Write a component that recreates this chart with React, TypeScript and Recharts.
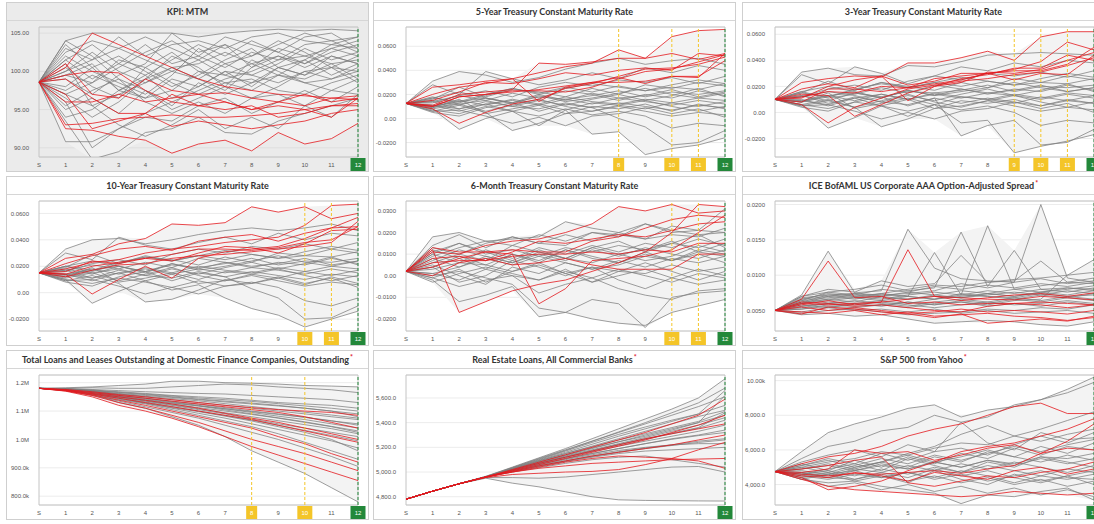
import React from 'react';
import { ComposedChart, Line, Area, XAxis, YAxis, CartesianGrid, ReferenceLine, ReferenceArea } from 'recharts';

// Forecast horizon: S (start) then months 1..12
const steps = [0, 1, 2, 3, 4, 5, 6, 7, 8, 9, 10, 11, 12];

// KPI: MTM
const kpiGray = [
  [98.6, 104.0, 105.0, 105.0, 105.0, 105.0, 104.5, 105.0, 105.3, 105.5, 105.3, 105.5, 105.3],
  [98.6, 103.0, 101.5, 104.5, 102.0, 103.5, 104.0, 103.0, 104.5, 105.0, 104.0, 103.5, 104.5],
  [98.6, 101.5, 99.0, 101.0, 103.5, 101.0, 102.0, 100.5, 102.5, 101.5, 103.5, 104.0, 102.5],
  [98.6, 100.0, 102.5, 100.0, 98.5, 100.5, 101.0, 102.5, 101.0, 102.0, 101.0, 102.5, 103.5],
  [98.6, 99.0, 97.0, 99.5, 101.0, 105.0, 102.5, 103.5, 100.5, 103.0, 102.0, 101.0, 101.5],
  [98.6, 97.5, 99.5, 98.0, 96.5, 99.0, 98.0, 100.0, 99.5, 98.5, 100.0, 100.5, 100.0],
  [98.6, 95.0, 96.5, 94.5, 97.5, 95.5, 98.5, 97.0, 98.5, 99.5, 98.5, 97.5, 99.0],
  [98.6, 90.8, 90.8, 92.5, 94.0, 93.5, 95.5, 96.5, 94.5, 96.0, 97.5, 96.0, 98.0],
  [98.6, 93.5, 88.5, 89.5, 92.0, 92.5, 94.0, 92.0, 91.8, 93.5, 94.5, 95.5, 96.5],
  [98.6, 96.0, 90.0, 92.5, 94.5, 96.0, 97.5, 99.0, 100.0, 101.5, 102.0, 103.0, 104.0],
  [98.6, 102.5, 104.0, 103.0, 101.5, 100.0, 101.5, 99.5, 98.5, 100.5, 101.5, 99.5, 101.0],
  [98.6, 100.5, 98.0, 96.5, 100.5, 98.5, 97.0, 98.5, 97.5, 99.5, 99.0, 100.5, 98.5],
  [98.6, 98.0, 100.5, 102.0, 100.0, 98.0, 99.5, 101.5, 103.0, 100.5, 99.5, 102.0, 101.0],
  [98.6, 104.0, 102.0, 99.0, 96.0, 94.5, 96.0, 94.5, 96.5, 97.0, 95.5, 97.5, 97.0],
  [98.6, 96.5, 94.0, 96.0, 99.0, 100.5, 99.0, 101.0, 99.5, 101.0, 103.0, 101.5, 102.5],
  [98.6, 99.5, 101.0, 97.5, 99.0, 102.0, 100.5, 98.0, 101.5, 100.0, 98.5, 99.0, 100.0],
  [98.6, 101.0, 95.5, 93.0, 91.5, 93.0, 95.0, 92.5, 94.0, 92.5, 95.5, 94.0, 97.0],
  [98.6, 97.0, 98.5, 100.5, 102.5, 104.0, 102.0, 104.5, 103.5, 102.5, 104.5, 105.0, 103.0],
  [98.6, 94.0, 95.0, 97.5, 96.5, 97.5, 100.0, 98.5, 99.0, 97.5, 97.0, 98.5, 99.5],
  [98.6, 102.0, 100.0, 98.5, 97.0, 99.5, 103.0, 101.0, 102.0, 104.0, 102.5, 100.5, 102.0],
  [98.6, 100.0, 101.5, 103.0, 104.5, 103.0, 101.5, 103.5, 102.0, 103.5, 105.0, 104.0, 104.5],
  [98.6, 97.0, 95.5, 97.0, 98.5, 100.0, 99.0, 97.5, 100.5, 102.0, 100.5, 102.0, 101.0],
  [98.6, 101.5, 103.5, 101.0, 99.5, 101.5, 103.5, 102.0, 104.0, 102.5, 101.0, 103.0, 102.0],
  [98.6, 95.5, 97.5, 99.0, 97.5, 95.0, 96.5, 98.0, 96.5, 98.0, 100.0, 99.0, 100.5],
  [98.6, 99.5, 98.5, 101.5, 100.5, 102.5, 100.0, 99.5, 101.0, 99.5, 101.5, 103.5, 103.0],
  [98.6, 103.5, 100.5, 97.5, 99.5, 96.5, 98.0, 100.0, 98.0, 100.5, 99.5, 101.0, 99.0],
];
const kpiRed = [
  [98.6, 92.5, 92.3, 91.5, 91.0, 89.3, 90.5, 91.0, 89.6, 92.0, 90.5, 91.2, 93.2],
  [98.6, 100.5, 105.0, 103.5, 102.0, 100.5, 99.0, 98.0, 97.5, 97.0, 96.8, 96.5, 96.3],
  [98.6, 101.0, 97.0, 96.5, 99.0, 97.5, 97.0, 97.2, 96.5, 96.0, 97.0, 96.0, 96.5],
  [98.6, 93.0, 93.2, 93.8, 94.0, 94.3, 94.0, 94.0, 94.2, 94.5, 95.0, 95.5, 95.8],
  [98.6, 99.5, 100.0, 99.8, 97.5, 96.0, 95.5, 96.0, 95.0, 95.5, 95.0, 94.0, 96.5],
  [98.6, 97.0, 92.5, 93.5, 94.5, 92.8, 93.5, 93.0, 92.5, 93.0, 93.5, 94.5, 95.0],
  [98.6, 96.0, 96.0, 97.0, 96.0, 96.5, 97.0, 96.0, 95.0, 96.0, 95.5, 96.5, 96.8],
  [98.6, 99.0, 96.5, 94.5, 94.5, 97.0, 95.5, 95.0, 95.5, 94.0, 94.5, 95.5, 95.5],
];

// Treasury rates and spreads are kept in basis points
const fiveYrGray = [
  [125, 310, 390, 360, 300, 340, 410, 460, 500, 450, 480, 500, 450],
  [125, 280, 200, 390, 330, 280, 320, 380, 330, 420, 380, 440, 400],
  [125, 80, -90, 0, 60, -60, 70, -130, -110, -300, -250, -220, -160],
  [125, 160, 260, 180, 240, 220, 180, 250, 200, 280, 250, 300, 270],
  [125, 60, 110, 50, -100, -40, 40, 100, 80, 120, 60, 120, 80],
  [125, 100, 140, 170, 130, 180, 160, 190, 230, 180, 220, 200, 230],
  [125, 70, 40, 100, 60, 20, 80, 30, 60, 20, -80, -40, -60],
  [125, 180, 120, 150, 210, 170, 230, 200, 150, 200, 170, 230, 190],
  [125, 140, 80, 120, 150, 110, 160, 120, 170, 140, 110, 150, 120],
  [125, 90, 160, 40, 80, 120, 70, 130, 110, 80, 130, 100, 140],
  [125, 130, 190, 230, 180, 260, 300, 270, 320, 300, 340, 290, 350],
  [125, 50, 20, 90, 130, 60, 120, 90, 0, -70, -220, -200, -100],
  [125, 110, 60, 120, 60, 110, 40, 60, 100, 60, 20, 50, 30],
  [125, 170, 220, 170, 120, 190, 140, 170, 210, 250, 200, 170, 210],
  [125, 90, 130, 190, 250, 200, 250, 290, 260, 230, 280, 320, 290],
  [125, 60, 70, 20, -40, 10, -60, 20, 40, 90, 40, 80, 10],
  [125, 150, 110, 170, 130, 200, 150, 210, 170, 190, 240, 180, 220],
  [125, 100, 150, 110, 160, 120, 180, 140, 120, 160, 130, 170, 150],
  [125, 140, 190, 150, 100, 150, 110, 160, 200, 150, 190, 250, 180],
  [125, 110, 80, 140, 100, 80, 130, 90, 130, 100, 70, 110, 90],
  [125, 170, 140, 200, 250, 210, 260, 220, 270, 230, 260, 240, 290],
  [125, 80, 120, 60, 110, 160, 100, 60, 110, 150, 100, 60, 100],
];
const fiveYrRed = [
  [125, 260, 280, 310, 330, 380, 430, 460, 570, 500, 680, 730, 740],
  [125, 110, 200, 220, 240, 460, 450, 470, 500, 500, 540, 490, 540],
  [125, 100, 180, 200, 230, 230, 220, 260, 330, 390, 410, 470, 530],
  [125, 150, 220, 300, 290, 330, 380, 360, 400, 420, 400, 540, 520],
  [125, 80, -40, 50, 120, 160, 250, 290, 350, 410, 420, 450, 510],
  [125, 100, 180, 200, 220, 240, 270, 300, 300, 310, 350, 340, 540],
  [125, 200, 260, 290, 330, 140, 260, 300, 340, 290, 350, 350, 480],
];

const threeYrGray = [
  [100, 310, 340, 290, 280, 360, 350, 390, 440, 450, 460, 450, 440],
  [100, 290, 220, 350, 300, 220, 280, 350, 320, 380, 350, 400, 380],
  [100, 60, -120, -40, 50, -30, 60, -80, -60, -310, -260, -220, -170],
  [100, 150, 240, 170, 230, 200, 170, 230, 190, 260, 230, 280, 250],
  [100, 50, 90, 40, -110, -50, 30, 90, 70, 100, 50, 100, 70],
  [100, 90, 130, 150, 120, 160, 150, 170, 210, 160, 200, 190, 210],
  [100, 60, 30, 80, 50, 10, 60, 20, 50, 0, -100, -60, -80],
  [100, 160, 110, 140, 190, 150, 210, 180, 140, 180, 160, 210, 170],
  [100, 130, 70, 110, 140, 100, 140, 110, 150, 130, 100, 140, 110],
  [100, 80, 150, 30, 70, 110, 60, 120, 100, 70, 120, 90, 130],
  [100, 120, 180, 210, 170, 240, 280, 250, 300, 280, 310, 270, 320],
  [100, 40, 10, 80, 120, 50, 110, -180, -100, -60, -250, -230, -130],
  [100, 100, 50, 110, 50, 100, 30, 50, 90, 50, 10, 40, 20],
  [100, 160, 200, 160, 110, 170, 130, 160, 190, 230, 190, 160, 190],
  [100, 80, 120, 170, 230, 190, 230, 270, 240, 210, 260, 300, 270],
  [100, 50, 60, 10, -50, 0, -50, 10, 30, 80, 30, 70, 0],
  [100, 130, 90, 150, 110, 170, 130, 180, 150, 170, 210, 160, 190],
  [100, 80, 130, 90, 140, 100, 150, 120, 100, 140, 110, 150, 130],
  [100, 120, 160, 130, 80, 130, 90, 140, 180, 130, 170, 220, 160],
  [100, 90, 60, 120, 80, 60, 110, 70, 110, 80, 50, 90, 70],
  [100, 150, 120, 180, 220, 190, 230, 200, 240, 210, 230, 220, 260],
  [100, 60, 100, 40, 90, 140, 80, 40, 90, 130, 80, 40, 80],
];
const threeYrRed = [
  [100, 230, 260, 280, 270, 380, 380, 420, 470, 400, 580, 620, 620],
  [100, 180, 220, 190, 280, 210, 240, 300, 300, 330, 390, 540, 480],
  [100, 120, 160, 150, 200, 190, 220, 250, 300, 320, 320, 370, 500],
  [100, 60, -80, 40, 110, 180, 210, 240, 260, 290, 310, 360, 420],
  [100, 80, 180, 180, 160, 190, 260, 280, 300, 250, 300, 290, 440],
  [100, 110, 200, 250, 280, 90, 200, 260, 290, 340, 340, 440, 400],
  [100, 140, 130, -30, 60, 150, 200, 230, 310, 300, 330, 400, 460],
];

const tenYrGray = [
  [150, 330, 400, 410, 370, 400, 440, 470, 490, 470, 490, 520, 470],
  [150, 300, 250, 420, 360, 330, 380, 420, 370, 450, 400, 450, 430],
  [150, 100, -80, 10, 90, 20, 60, -40, -120, -170, -260, -200, -140],
  [150, 190, 290, 220, 270, 250, 210, 270, 230, 300, 280, 330, 300],
  [150, 90, 130, 70, -70, -50, 20, 100, 70, 110, 60, 120, 70],
  [150, 140, 170, 200, 160, 210, 190, 220, 260, 210, 240, 230, 260],
  [150, 100, 70, 110, 80, 40, 90, 50, 80, 40, -60, -100, -40],
  [150, 200, 150, 180, 230, 190, 260, 230, 190, 230, 210, 260, 220],
  [150, 170, 110, 150, 180, 140, 180, 150, 190, 170, 140, 180, 150],
  [150, 120, 190, 80, 110, 150, 100, 160, 140, 110, 160, 130, 170],
  [150, 160, 220, 250, 210, 290, 330, 300, 350, 330, 370, 330, 380],
  [150, 80, 50, 120, 160, 90, 150, 120, 30, -40, -200, -190, -100],
  [150, 140, 90, 150, 90, 140, 70, 90, 130, 90, 50, 80, 60],
  [150, 200, 240, 200, 150, 220, 170, 200, 240, 280, 230, 200, 240],
  [150, 120, 160, 220, 280, 240, 280, 320, 290, 260, 310, 350, 320],
  [150, 90, 100, 50, -10, 40, -10, 50, 70, 120, 70, 110, 40],
  [150, 180, 140, 200, 160, 220, 180, 230, 200, 220, 260, 210, 240],
  [150, 130, 180, 140, 190, 150, 200, 170, 150, 190, 160, 200, 180],
  [150, 170, 210, 180, 130, 180, 140, 190, 230, 180, 220, 270, 210],
  [150, 140, 110, 170, 130, 110, 160, 120, 160, 130, 100, 140, 120],
  [150, 200, 170, 230, 270, 240, 280, 250, 290, 260, 280, 270, 310],
  [150, 110, 150, 90, 140, 190, 130, 90, 140, 180, 130, 90, 130],
];
const tenYrRed = [
  [150, 260, 290, 370, 410, 520, 510, 530, 650, 610, 650, 560, 600],
  [150, 180, 230, 250, 300, 330, 350, 380, 400, 420, 510, 660, 670],
  [150, 140, -10, 100, 200, 110, 260, 310, 330, 350, 410, 490, 500],
  [150, 220, 280, 330, 350, 320, 390, 420, 440, 390, 450, 490, 570],
  [150, 140, 200, 230, 260, 290, 330, 330, 320, 340, 380, 400, 500],
  [150, 120, 170, 210, 220, 260, 280, 290, 310, 330, 350, 380, 540],
  [150, 160, 240, 220, 260, 240, 300, 350, 340, 300, 370, 470, 480],
];

const sixMoGray = [
  [20, 180, 200, 160, 170, 180, 250, 220, 200, 240, 200, 210, 310],
  [20, 140, 190, 130, 180, 150, 140, 200, 190, 170, 230, 210, 200],
  [20, -20, -120, -90, -50, -190, -170, -200, -220, -230, -170, -140, -110],
  [20, 100, 60, 120, 80, 130, 100, 140, 110, 150, 130, 170, 140],
  [20, 50, 0, -40, 40, 10, 60, 30, 70, 40, 80, 60, 90],
  [20, -10, -50, -20, 0, -80, -40, -10, -60, -90, -110, -70, -60],
  [20, 70, 120, 90, 60, 100, 70, 120, 90, 130, 100, 80, 120],
  [20, 0, 20, -10, -40, -150, -170, -110, -130, -240, -100, -80, -70],
  [20, 120, 80, 30, 100, 60, 120, 90, 60, 110, 70, 120, 100],
  [20, 30, 60, 50, 20, 50, 10, 40, 20, 10, 50, 20, 40],
  [20, 90, 130, 160, 140, 190, 160, 200, 180, 240, 210, 190, 200],
  [20, -30, 10, 40, 10, -20, 30, -30, 0, 30, -10, -40, -20],
  [20, 60, 100, 70, 140, 110, 80, 60, 100, 70, 90, 140, 110],
  [20, 40, -30, 0, 70, 40, 0, 40, -20, -60, -10, 30, 0],
  [20, 110, 150, 100, 120, 90, 130, 110, 140, 120, 150, 130, 170],
  [20, 10, 40, 80, 50, 90, 60, 30, 50, 90, 70, 100, 60],
  [20, 80, 40, 90, 60, 110, 80, 130, 100, 120, 160, 110, 150],
  [20, 40, 90, 50, 100, 70, 120, 80, 60, 100, 70, 110, 90],
  [20, 100, 150, 110, 70, 120, 80, 130, 160, 110, 150, 190, 130],
  [20, 10, -20, 30, 0, -20, 20, -10, 30, 0, -30, 10, -10],
  [20, 130, 100, 150, 180, 150, 190, 160, 200, 170, 190, 180, 220],
  [20, -10, 30, -30, 20, 60, 10, -30, 20, 60, 20, -20, 20],
];
const sixMoRed = [
  [20, 110, 100, 140, 160, 170, 200, 240, 320, 300, 330, 290, 300],
  [20, 120, -170, -120, -70, -40, -20, 20, 60, 110, 200, 330, 320],
  [20, 40, 80, 110, 100, -130, -60, 70, 80, 90, 120, 200, 280],
  [20, 130, 110, 110, 120, 110, 110, 160, 180, 220, 260, 280, 270],
  [20, 60, 70, 70, 90, 100, 100, 110, 100, 120, 110, 150, 150],
  [20, 0, 60, 80, 50, 60, 80, 50, 30, 30, 30, 100, 100],
  [20, 80, 90, 70, 110, 160, 150, 170, 190, 180, 210, 240, 250],
];

const oasGray = [
  [50, 72, 134, 75, 78, 165, 110, 95, 92, 90, 95, 88, 92],
  [50, 68, 72, 74, 72, 70, 132, 72, 170, 80, 85, 90, 88],
  [50, 64, 76, 80, 86, 78, 82, 161, 84, 135, 80, 82, 78],
  [50, 60, 70, 66, 72, 74, 78, 88, 82, 90, 200, 96, 90],
  [50, 56, 62, 60, 64, 60, 66, 70, 74, 70, 76, 80, 85],
  [50, 52, 58, 56, 58, 54, 60, 62, 58, 64, 66, 100, 122],
  [50, 46, 50, 52, 48, 44, 46, 48, 52, 50, 54, 52, 58],
  [50, 70, 80, 76, 92, 84, 88, 128, 90, 92, 120, 90, 96],
  [50, 64, 68, 72, 68, 66, 70, 68, 72, 76, 72, 78, 74],
  [50, 58, 54, 60, 56, 62, 58, 64, 60, 66, 62, 68, 64],
  [50, 44, 46, 42, 44, 38, 32, 34, 36, 34, 30, 28, 34],
  [50, 62, 66, 70, 74, 80, 86, 84, 90, 94, 96, 100, 104],
  [50, 54, 60, 58, 62, 58, 54, 58, 62, 58, 60, 64, 60],
  [50, 66, 74, 70, 66, 72, 76, 72, 78, 74, 80, 76, 82],
  [50, 48, 54, 50, 52, 48, 52, 46, 50, 46, 48, 50, 46],
  [50, 60, 64, 68, 64, 70, 66, 72, 70, 68, 74, 70, 72],
  [50, 60, 66, 62, 70, 66, 72, 68, 74, 70, 76, 72, 78],
  [50, 66, 70, 74, 70, 76, 72, 78, 74, 80, 76, 82, 80],
  [50, 56, 60, 64, 60, 56, 62, 66, 62, 68, 64, 70, 66],
  [50, 62, 72, 68, 74, 70, 66, 74, 70, 66, 72, 68, 74],
  [50, 52, 56, 54, 58, 62, 58, 62, 56, 60, 56, 62, 58],
  [50, 70, 76, 72, 80, 76, 84, 80, 86, 82, 88, 84, 90],
];
const oasRed = [
  [50, 66, 120, 68, 70, 60, 62, 58, 60, 60, 62, 60, 58],
  [50, 60, 58, 60, 62, 136, 70, 68, 66, 65, 70, 68, 65],
  [50, 45, 55, 52, 48, 45, 40, 45, 32, 35, 38, 35, 42],
  [50, 62, 60, 56, 58, 54, 50, 48, 56, 60, 58, 54, 58],
  [50, 55, 50, 54, 50, 46, 48, 52, 48, 50, 48, 45, 50],
  [50, 58, 64, 58, 62, 66, 70, 64, 68, 72, 74, 70, 75],
  [50, 48, 46, 50, 44, 48, 42, 44, 46, 42, 40, 36, 40],
];

// Loans in thousands of dollars
const loansGray = [
  [1180, 1182, 1185, 1190, 1195, 1205, 1205, 1200, 1198, 1195, 1190, 1188, 1185],
  [1180, 1180, 1182, 1180, 1180, 1185, 1190, 1195, 1192, 1185, 1180, 1175, 1165],
  [1180, 1177, 1170, 1160, 1150, 1140, 1130, 1120, 1110, 1100, 1090, 1080, 1070],
  [1180, 1175, 1160, 1130, 1110, 1080, 1050, 1010, 960, 920, 880, 830, 780],
  [1180, 1176, 1166, 1152, 1140, 1128, 1118, 1108, 1098, 1088, 1078, 1065, 1055],
  [1180, 1178, 1174, 1168, 1162, 1155, 1150, 1145, 1138, 1130, 1125, 1120, 1110],
  [1180, 1175, 1162, 1145, 1128, 1110, 1092, 1075, 1055, 1035, 1015, 995, 970],
  [1180, 1177, 1168, 1155, 1145, 1132, 1120, 1108, 1095, 1082, 1070, 1055, 1040],
  [1180, 1174, 1158, 1140, 1125, 1105, 1085, 1065, 1045, 1020, 990, 960, 930],
  [1180, 1179, 1176, 1172, 1168, 1165, 1162, 1160, 1155, 1150, 1145, 1140, 1130],
  [1180, 1175, 1163, 1148, 1135, 1120, 1105, 1090, 1072, 1055, 1040, 1025, 1010],
  [1180, 1172, 1155, 1135, 1115, 1095, 1075, 1050, 1025, 1000, 970, 940, 905],
  [1180, 1178, 1172, 1165, 1158, 1150, 1142, 1135, 1128, 1120, 1110, 1100, 1090],
  [1180, 1176, 1165, 1150, 1138, 1125, 1112, 1100, 1088, 1075, 1060, 1045, 1025],
  [1180, 1173, 1160, 1142, 1128, 1112, 1098, 1082, 1065, 1045, 1025, 1000, 960],
  [1180, 1177, 1170, 1162, 1155, 1148, 1140, 1132, 1125, 1118, 1110, 1100, 1080],
  [1180, 1177, 1168, 1156, 1146, 1134, 1124, 1112, 1100, 1090, 1078, 1066, 1050],
  [1180, 1176, 1164, 1150, 1136, 1122, 1108, 1094, 1080, 1066, 1052, 1038, 1020],
  [1180, 1178, 1170, 1160, 1152, 1144, 1136, 1126, 1116, 1106, 1096, 1086, 1075],
  [1180, 1174, 1161, 1146, 1132, 1116, 1100, 1084, 1068, 1050, 1032, 1014, 995],
  [1180, 1178, 1173, 1166, 1160, 1153, 1146, 1140, 1134, 1126, 1118, 1110, 1100],
  [1180, 1175, 1166, 1153, 1142, 1130, 1118, 1104, 1090, 1076, 1062, 1046, 1030],
];
const loansRed = [
  [1180, 1175, 1165, 1155, 1145, 1135, 1125, 1115, 1105, 1095, 1080, 1060, 1040],
  [1180, 1172, 1155, 1130, 1110, 1085, 1060, 1030, 1000, 975, 950, 920, 890],
  [1180, 1170, 1150, 1120, 1100, 1075, 1045, 1010, 975, 945, 915, 885, 855],
  [1180, 1176, 1168, 1158, 1150, 1140, 1130, 1120, 1112, 1105, 1100, 1095, 1085],
  [1180, 1174, 1160, 1145, 1130, 1115, 1100, 1085, 1070, 1050, 1030, 1010, 990],
  [1180, 1173, 1162, 1150, 1138, 1125, 1110, 1092, 1075, 1060, 1040, 1020, 1000],
  [1180, 1171, 1157, 1138, 1120, 1100, 1080, 1060, 1040, 1010, 985, 950, 920],
];

const realEstateGray = [
  [4780, 4845, 4905, 4965, 5040, 5115, 5190, 5270, 5350, 5430, 5510, 5600, 5755],
  [4780, 4845, 4905, 4965, 5035, 5105, 5175, 5250, 5325, 5400, 5480, 5560, 5680],
  [4780, 4845, 4905, 4950, 4910, 4880, 4840, 4800, 4775, 4770, 4768, 4766, 4765],
  [4780, 4845, 4905, 4960, 5030, 5095, 5160, 5225, 5290, 5350, 5410, 5470, 5540],
  [4780, 4845, 4905, 4955, 4955, 4950, 4960, 4980, 5000, 5020, 5040, 5045, 5000],
  [4780, 4845, 4905, 4960, 5020, 5075, 5130, 5180, 5230, 5280, 5330, 5380, 5440],
  [4780, 4845, 4905, 4960, 5010, 5055, 5100, 5140, 5175, 5200, 5220, 5230, 5230],
  [4780, 4845, 4905, 4960, 5025, 5090, 5150, 5205, 5260, 5310, 5360, 5410, 5490],
  [4780, 4845, 4905, 4960, 5005, 5045, 5085, 5120, 5150, 5170, 5180, 5190, 5200],
  [4780, 4845, 4905, 4960, 5025, 5085, 5140, 5195, 5245, 5290, 5340, 5400, 5620],
  [4780, 4845, 4905, 4960, 5015, 5065, 5110, 5150, 5190, 5230, 5270, 5300, 5340],
  [4780, 4845, 4905, 4960, 5000, 5035, 5070, 5100, 5120, 5130, 5100, 5070, 5040],
  [4780, 4845, 4905, 4960, 5030, 5100, 5170, 5240, 5305, 5365, 5420, 5470, 5660],
  [4780, 4845, 4905, 4960, 5020, 5070, 5120, 5165, 5210, 5250, 5290, 5330, 5380],
  [4780, 4845, 4905, 4960, 5010, 5050, 5090, 5130, 5165, 5195, 5220, 5250, 5270],
  [4780, 4845, 4905, 4960, 5035, 5110, 5180, 5250, 5320, 5390, 5460, 5530, 5610],
  [4780, 4845, 4905, 4960, 5020, 5080, 5135, 5190, 5245, 5300, 5350, 5400, 5460],
  [4780, 4845, 4905, 4960, 5015, 5070, 5120, 5170, 5220, 5265, 5310, 5355, 5420],
  [4780, 4845, 4905, 4960, 5025, 5090, 5150, 5210, 5270, 5330, 5390, 5450, 5500],
  [4780, 4845, 4905, 4960, 5010, 5060, 5105, 5150, 5190, 5230, 5265, 5295, 5320],
  [4780, 4845, 4905, 4960, 5020, 5075, 5125, 5175, 5225, 5270, 5315, 5360, 5480],
  [4780, 4845, 4905, 4960, 5005, 5050, 5090, 5125, 5160, 5190, 5215, 5240, 5260],
];
const realEstateRed = [
  [4780, 4845, 4905, 4960, 5020, 5080, 5140, 5200, 5260, 5320, 5390, 5460, 5590],
  [4780, 4845, 4905, 4960, 5010, 5060, 5110, 5160, 5210, 5260, 5320, 5380, 5460],
  [4780, 4845, 4905, 4955, 4980, 4990, 5000, 5005, 5020, 5060, 5110, 5180, 5240],
  [4780, 4845, 4905, 4960, 5000, 5040, 5080, 5110, 5130, 5120, 5110, 5090, 5030],
  [4780, 4845, 4905, 4960, 5005, 5050, 5090, 5130, 5160, 5190, 5220, 5260, 5300],
  [4780, 4845, 4905, 4960, 5000, 5030, 5050, 5070, 5080, 5090, 5100, 5105, 5110],
  [4780, 4845, 4905, 4960, 5015, 5070, 5120, 5170, 5220, 5270, 5310, 5350, 5390],
];

const spxGray = [
  [4750, 5900, 7000, 7500, 7900, 8400, 8600, 7900, 8300, 8500, 8900, 9500, 10200],
  [4750, 5500, 6200, 6500, 7100, 7300, 8000, 7600, 7900, 8600, 8900, 9300, 9900],
  [4750, 4300, 4100, 4200, 3900, 3700, 3500, 2900, 3400, 3300, 3600, 3800, 3100],
  [4750, 5000, 5300, 5500, 5900, 5700, 6100, 6400, 6300, 6800, 6500, 6900, 7200],
  [4750, 4600, 4400, 4800, 5100, 4900, 5300, 5000, 5400, 5200, 5600, 5500, 5800],
  [4750, 4500, 4700, 4300, 4600, 4200, 4500, 4100, 4400, 4000, 4300, 3900, 4200],
  [4750, 5200, 4800, 5400, 5000, 5600, 5200, 5800, 5500, 6100, 5700, 6200, 6000],
  [4750, 4400, 3900, 4100, 3700, 4000, 3600, 3900, 3500, 3800, 3400, 3700, 3300],
  [4750, 4900, 5200, 4900, 5300, 5800, 6200, 6900, 7400, 6800, 7200, 7700, 8200],
  [4750, 4700, 4500, 4900, 4700, 5100, 4800, 5200, 4900, 5300, 5000, 4700, 5100],
  [4750, 5300, 5700, 6000, 5600, 6300, 5900, 7600, 6400, 6000, 7000, 6600, 6700],
  [4750, 4500, 4300, 4600, 4400, 4700, 4400, 4800, 4500, 4100, 4500, 4300, 4600],
  [4750, 4800, 4600, 5000, 5300, 5000, 5600, 5300, 5900, 5600, 6200, 5800, 6400],
  [4750, 4300, 4600, 4200, 4500, 4100, 4800, 4300, 4000, 4600, 4200, 4500, 4000],
  [4750, 5100, 5500, 5200, 5800, 5400, 5900, 6100, 5700, 6300, 6800, 6400, 7000],
  [4750, 4600, 4900, 5200, 4800, 5500, 5100, 4700, 5300, 5000, 5600, 5300, 5000],
  [4750, 4900, 5100, 4800, 5200, 4900, 5300, 5000, 5400, 5100, 5500, 5200, 5500],
  [4750, 4600, 4800, 4500, 4900, 4600, 5000, 4700, 5100, 4800, 4500, 4900, 4700],
  [4750, 5000, 4700, 5100, 5500, 5200, 5700, 5400, 5800, 6200, 5900, 6300, 6600],
  [4750, 4400, 4600, 4800, 4400, 4700, 4300, 4600, 4200, 4500, 4800, 4400, 4300],
  [4750, 5100, 5400, 5000, 5300, 5700, 5300, 5600, 6000, 5600, 5300, 5700, 5400],
  [4750, 4700, 4400, 4300, 4700, 4400, 4900, 4500, 4800, 4400, 4100, 4500, 4800],
];
const spxRed = [
  [4750, 4600, 4500, 4650, 4600, 4700, 4800, 4650, 4900, 5100, 5800, 6500, 7500],
  [4750, 5200, 5600, 5800, 6200, 6800, 7200, 7500, 8000, 8500, 8700, 8100, 8100],
  [4750, 4400, 3700, 3900, 4200, 4800, 5300, 5900, 6200, 6400, 6800, 7200, 7800],
  [4750, 4700, 4900, 6000, 5800, 5900, 5400, 5700, 6100, 6300, 5800, 6100, 6000],
  [4750, 4300, 3900, 3700, 3600, 3500, 3400, 3300, 3400, 3600, 3500, 3400, 3500],
  [4750, 4900, 5100, 5400, 5600, 4100, 3900, 4200, 4500, 4400, 4700, 4900, 5300],
  [4750, 4500, 4400, 4700, 4500, 4200, 4700, 4500, 4300, 4800, 5000, 4600, 4900],
];

const fmtKpi = (v: number) => v.toFixed(2);
const fmtRate = (v: number) => (v === 0 ? '0.00' : (v / 10000).toFixed(4));
const fmtLoans = (v: number) => (v >= 1000 ? (v / 1000).toFixed(1) + 'M' : v.toFixed(1) + 'k');
const fmtOne = (v: number) => v.toLocaleString('en-US', { minimumFractionDigits: 1, maximumFractionDigits: 1 });
const fmtSpx = (v: number) => (v >= 10000 ? (v / 1000).toFixed(2) + 'k' : fmtOne(v));

interface PanelDef {
  title: string;
  starred?: boolean;
  selected?: boolean;
  gray: number[][];
  red: number[][];
  domain: [number, number];
  ticks: number[];
  fmt: (v: number) => string;
  marks: number[];
}

const rateTicks = [-200, 0, 200, 400, 600];

const panels: PanelDef[] = [
  { title: 'KPI: MTM', selected: true, gray: kpiGray, red: kpiRed, domain: [88.8, 105.8], ticks: [90, 95, 100, 105], fmt: fmtKpi, marks: [] },
  { title: '5-Year Treasury Constant Maturity Rate', gray: fiveYrGray, red: fiveYrRed, domain: [-320, 760], ticks: rateTicks, fmt: fmtRate, marks: [8, 10, 11] },
  { title: '3-Year Treasury Constant Maturity Rate', gray: threeYrGray, red: threeYrRed, domain: [-342, 656], ticks: rateTicks, fmt: fmtRate, marks: [9, 10, 11] },
  { title: '10-Year Treasury Constant Maturity Rate', gray: tenYrGray, red: tenYrRed, domain: [-290, 694], ticks: rateTicks, fmt: fmtRate, marks: [10, 11] },
  { title: '6-Month Treasury Constant Maturity Rate', gray: sixMoGray, red: sixMoRed, domain: [-256, 346], ticks: [-200, -100, 0, 100, 200, 300], fmt: fmtRate, marks: [10, 11] },
  { title: 'ICE BofAML US Corporate AAA Option-Adjusted Spread', starred: true, gray: oasGray, red: oasRed, domain: [21, 205], ticks: [50, 100, 150, 200], fmt: fmtRate, marks: [] },
  { title: 'Total Loans and Leases Outstanding at Domestic Finance Companies, Outstanding', starred: true, gray: loansGray, red: loansRed, domain: [769, 1227], ticks: [800, 900, 1000, 1100, 1200], fmt: fmtLoans, marks: [8, 10] },
  { title: 'Real Estate Loans, All Commercial Banks', starred: true, gray: realEstateGray, red: realEstateRed, domain: [4733, 5786], ticks: [4800, 5000, 5200, 5400, 5600], fmt: fmtOne, marks: [] },
  { title: 'S&P 500 from Yahoo', starred: true, gray: spxGray, red: spxRed, domain: [2820, 10325], ticks: [4000, 6000, 8000, 10000], fmt: fmtSpx, marks: [] },
];

const PANEL_W = 363;
const PANEL_H = 170;
const colLeft = [6, 373, 742];
const rowTop = [2, 176, 350];

const YELLOW = '#f4c528';
const GREEN = '#23883a';

const renderXTick = (props: any, marks: number[]) => {
  const { x, y, payload } = props;
  const v = payload.value as number;
  const label = v === 0 ? 'S' : String(v);
  const box = v === 12 ? GREEN : marks.includes(v) ? YELLOW : null;
  const w = label.length > 1 ? 15 : 11;
  return (
    <g>
      {box && <rect x={x - w / 2} y={y + 1} width={w} height={13} fill={box} />}
      <text x={x} y={y + 10} textAnchor="middle" fontSize={6} fontFamily="Liberation Sans, Arial" fill={box ? '#fff' : '#555'}>
        {label}
      </text>
    </g>
  );
};

const ChartPanel = ({ p, left, top }: { p: PanelDef; left: number; top: number }) => {
  const data = steps.map((t, i) => {
    const row: any = { t };
    const all = [...p.gray, ...p.red].map((s) => s[i]);
    row.band = [Math.min(...all), Math.max(...all)];
    p.gray.forEach((s, k) => (row['g' + k] = s[i]));
    p.red.forEach((s, k) => (row['r' + k] = s[i]));
    return row;
  });
  const bg = p.selected ? '#ebebeb' : '#fff';

  return (
    <div
      style={{
        position: 'absolute',
        left,
        top,
        width: PANEL_W - 2,
        height: PANEL_H - 2,
        border: '1px solid #cfcfcf',
        background: bg,
        overflow: 'hidden',
      }}
    >
      <div
        style={{
          height: 17,
          borderBottom: '1px solid #d6d6d6',
          display: 'flex',
          alignItems: 'center',
          justifyContent: 'center',
          fontFamily: 'Lato, "Open Sans", sans-serif',
          fontWeight: 700,
          fontSize: 9,
          color: '#333',
          whiteSpace: 'nowrap',
        }}
      >
        {p.title}
        {p.starred && <span style={{ color: '#e0202a', fontSize: 7, marginTop: -5, marginLeft: 1 }}>*</span>}
      </div>
      <ComposedChart width={PANEL_W - 2} height={150} data={data} margin={{ top: 6, right: 10, bottom: 0, left: 0 }}>
        <CartesianGrid vertical={false} stroke={p.selected ? '#dedede' : '#ececec'} />
        <XAxis
          type="number"
          dataKey="t"
          domain={[0, 12]}
          ticks={steps}
          interval={0}
          axisLine={false}
          tickLine={false}
          tickSize={0}
          tickMargin={0}
          height={14}
          tick={(props: any) => renderXTick(props, p.marks)}
        />
        <YAxis
          type="number"
          domain={p.domain}
          ticks={p.ticks}
          allowDataOverflow
          axisLine={false}
          tickLine={false}
          width={32}
          tickMargin={4}
          tickFormatter={p.fmt}
          tick={{ fontSize: 6, fill: '#555', fontFamily: 'Liberation Sans, Arial' }}
        />
        <Area dataKey="band" stroke="none" fill={p.selected ? '#f1f1f1' : '#f3f3f3'} fillOpacity={1} isAnimationActive={false} />
        {p.gray.map((_, k) => (
          <Line key={'g' + k} dataKey={'g' + k} stroke="#7e7e7e" strokeOpacity={0.75} strokeWidth={1} dot={false} activeDot={false} isAnimationActive={false} />
        ))}
        {p.red.map((_, k) => (
          <Line key={'r' + k} dataKey={'r' + k} stroke="#e3191e" strokeOpacity={0.8} strokeWidth={1} dot={false} activeDot={false} isAnimationActive={false} />
        ))}
        {p.marks.map((m) => (
          <ReferenceLine key={m} x={m} stroke={YELLOW} strokeDasharray="3 2" />
        ))}
        <ReferenceLine x={12} stroke={GREEN} strokeDasharray="3 2" />
        <ReferenceArea x1={0} x2={12} y1={p.domain[0]} y2={p.domain[1]} fill="none" stroke="#c4c4c4" />
      </ComposedChart>
    </div>
  );
};

export default function App() {
  return (
    <div style={{ position: 'absolute', left: 0, top: 0, width: 1094, height: 524, background: '#fff', overflow: 'hidden' }}>
      {panels.map((p, i) => (
        <ChartPanel key={p.title} p={p} left={colLeft[i % 3]} top={rowTop[Math.floor(i / 3)]} />
      ))}
    </div>
  );
}
